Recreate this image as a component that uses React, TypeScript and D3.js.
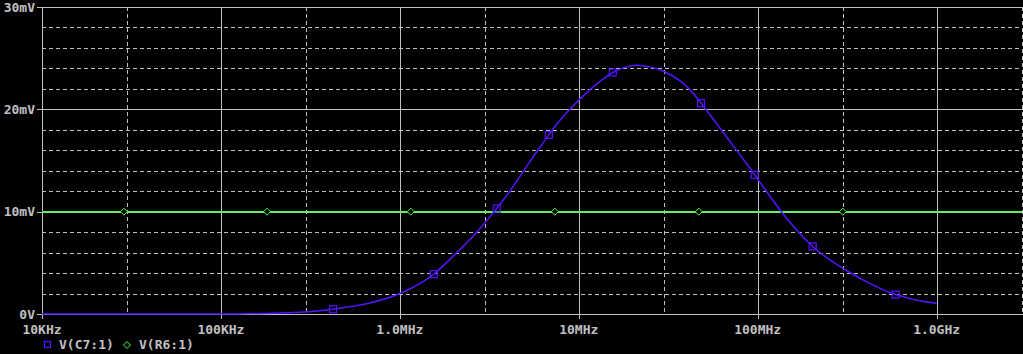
import React from "react";
import * as d3 from "d3";

// C7 curve (frequency in Hz, value in mV)
const c7Freq = [1e4, 1e5, 1.345e5, 2.367e5, 3.06e5, 3.57e5, 4.23e5, 5.46e5, 7.07e5, 1e6, 1.55e6, 2.08e6, 2.69e6, 3.4e6, 4.12e6, 4.93e6, 5.9e6, 6.8e6, 7.83e6, 8.91e6, 1e7, 1.152e7, 1.31e7, 1.549e7, 1.807e7, 2.109e7, 2.493e7, 3e7, 3.666e7, 4.17e7, 4.803e7, 6.134e7, 7.25e7, 8.57e7, 9.62e7, 1.356e8, 2.029e8, 3.101e8, 4.225e8, 5.902e8, 7.539e8, 1e9];
const c7Val = [0, 0, 0.02, 0.13, 0.23, 0.32, 0.46, 0.75, 1.15, 2.0, 3.9, 6.0, 8.0, 10.1, 12.0, 14.0, 16.0, 17.5, 18.9, 20.0, 20.9, 21.9, 22.7, 23.6, 24.1, 24.3, 24.15, 23.7, 22.8, 21.95, 20.65, 18.2, 16.5, 14.8, 13.6, 10.0, 6.6, 4.3, 3.0, 1.9, 1.4, 1.05];
const c7MarkFreq = [4.23e5, 1.55e6, 3.48e6, 6.8e6, 1.549e7, 4.82e7, 9.62e7, 2.029e8, 5.902e8];
const c7MarkVal = [0.46, 3.9, 10.3, 17.5, 23.6, 20.6, 13.6, 6.6, 1.9];

// R6 curve
const r6Freq = [1e4, 3e9];
const r6Val = [10, 10];
const r6MarkFreq = [2.87e4, 1.81e5, 1.15e6, 7.35e6, 4.68e7, 2.99e8];
const r6MarkVal = [10, 10, 10, 10, 10, 10];

const xMajor = [1e4, 1e5, 1e6, 1e7, 1e8, 1e9];
const xMajorLabels = ["10KHz", "100KHz", "1.0MHz", "10MHz", "100MHz", "1.0GHz"];
const xMinor = [3e4, 3e5, 3e6, 3e7, 3e8, 3e9];
const yMajor = [0, 10, 20, 30];
const yMajorLabels = ["0V", "10mV", "20mV", "30mV"];
const yMinor = [2, 4, 6, 8, 12, 14, 16, 18, 22, 24, 26, 28];
const legendLabels = ["V(C7:1)", "V(R6:1)"];

const W = 1023, H = 354;
const L = 42, R = 1022, T = 7, B = 314;
const GRID = "#c0c0c0";
const PURPLE = "#5514ff";
const GREEN = "#44ff44";
const FONT = "'DejaVu Sans Mono', monospace";

export default function App() {
  const x = d3.scaleLog().domain([1e4, 3e9]).range([L, R]);
  const y = d3.scaleLinear().domain([0, 30]).range([B, T]);

  const c7 = c7Freq.map((f, i) => [f, c7Val[i]] as [number, number]);
  const r6 = r6Freq.map((f, i) => [f, r6Val[i]] as [number, number]);
  const line = d3.line<[number, number]>().x(d => x(d[0])).y(d => y(d[1])).curve(d3.curveMonotoneX);

  return (
    <div style={{ position: "fixed", left: 0, top: 0, width: W, height: H, background: "#000" }}>
      <svg width={W} height={H} style={{ display: "block", background: "#000" }}>
        {/* minor grid */}
        {yMinor.map(v => (
          <line key={"ym" + v} x1={L} x2={R} y1={Math.round(y(v)) + 0.5} y2={Math.round(y(v)) + 0.5}
            stroke={GRID} strokeWidth={1} strokeDasharray="4,3" />
        ))}
        {xMinor.map(v => (
          <line key={"xm" + v} x1={Math.round(x(v)) + 0.5} x2={Math.round(x(v)) + 0.5} y1={T} y2={B}
            stroke={GRID} strokeWidth={1} strokeDasharray="4,3" />
        ))}
        {/* major grid */}
        {yMajor.map(v => (
          <line key={"yM" + v} x1={L - 5} x2={R + 1} y1={Math.round(y(v)) + 0.5} y2={Math.round(y(v)) + 0.5}
            stroke={GRID} strokeWidth={1} />
        ))}
        {xMajor.map(v => (
          <line key={"xM" + v} x1={Math.round(x(v)) + 0.5} x2={Math.round(x(v)) + 0.5} y1={T} y2={B + 5}
            stroke={GRID} strokeWidth={1} />
        ))}
        {/* labels */}
        {yMajor.map((v, i) => (
          <text key={"yl" + v} x={35} y={y(v)} dy="0.36em" textAnchor="end" fill={GRID}
            fontFamily={FONT} fontSize={13} fontWeight="bold">{yMajorLabels[i]}</text>
        ))}
        {xMajor.map((v, i) => (
          <text key={"xl" + v} x={x(v)} y={334} textAnchor="middle" fill={GRID}
            fontFamily={FONT} fontSize={13} fontWeight="bold">{xMajorLabels[i]}</text>
        ))}
        {/* series */}
        <path d={line(r6) || ""} fill="none" stroke={GREEN} strokeWidth={1.5} />
        <path d={line(c7) || ""} fill="none" stroke={PURPLE} strokeWidth={1.5} />
        {r6MarkFreq.map((f, i) => {
          const cx = x(f), cy = y(r6MarkVal[i]);
          return <path key={"rm" + i} d={`M${cx},${cy - 3.5}L${cx + 3.5},${cy}L${cx},${cy + 3.5}L${cx - 3.5},${cy}Z`}
            fill="#000" stroke={GREEN} strokeWidth={1} />;
        })}
        {c7MarkFreq.map((f, i) => {
          const cx = x(f), cy = y(c7MarkVal[i]);
          return <rect key={"cm" + i} x={cx - 3.5} y={cy - 3.5} width={7} height={7}
            fill="none" stroke={PURPLE} strokeWidth={1.2} />;
        })}
        {/* legend */}
        <rect x={44.5} y={341.5} width={6} height={6} fill="none" stroke={PURPLE} strokeWidth={1.2} />
        <text x={59} y={349} fill={GRID} fontFamily={FONT} fontSize={13} fontWeight="bold">{legendLabels[0]}</text>
        <path d="M127,341.5L130.5,345L127,348.5L123.5,345Z" fill="none" stroke={GREEN} strokeWidth={1} />
        <text x={139} y={349} fill={GRID} fontFamily={FONT} fontSize={13} fontWeight="bold">{legendLabels[1]}</text>
      </svg>
    </div>
  );
}
